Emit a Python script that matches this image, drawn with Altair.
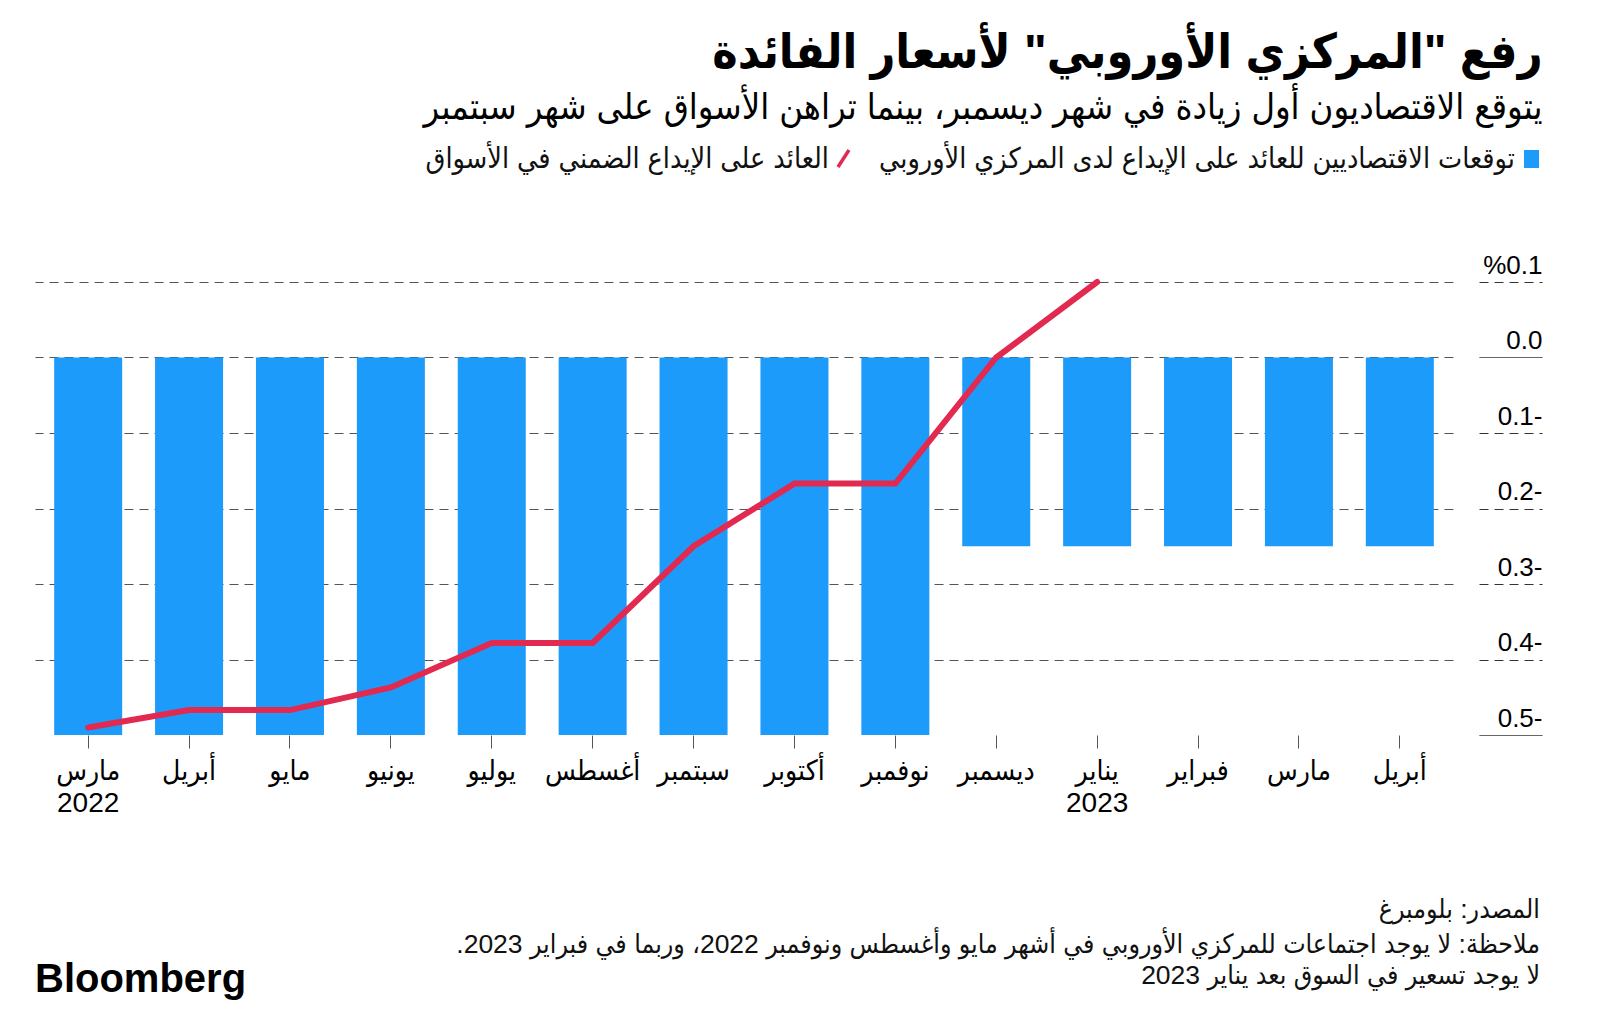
import json
import altair as alt
import pandas as pd

# ---------------- data ----------------
periods = ["2022-03", "2022-04", "2022-05", "2022-06", "2022-07", "2022-08", "2022-09",
           "2022-10", "2022-11", "2022-12", "2023-01", "2023-02", "2023-03", "2023-04"]
month_names = ["مارس", "أبريل", "مايو", "يونيو", "يوليو", "أغسطس", "سبتمبر",
               "أكتوبر", "نوفمبر", "ديسمبر", "يناير", "فبراير", "مارس", "أبريل"]
year_names = ["2022", "", "", "", "", "", "", "", "", "", "2023", "", "", ""]
economists = [-0.5, -0.5, -0.5, -0.5, -0.5, -0.5, -0.5, -0.5, -0.5,
              -0.25, -0.25, -0.25, -0.25, -0.25]
market_periods = periods[:11]
market = [-0.49, -0.467, -0.467, -0.437, -0.378, -0.378, -0.25, -0.167, -0.167, 0.0, 0.1]
y_ticks = [0.1, 0.0, -0.1, -0.2, -0.3, -0.4, -0.5]
y_labels = ["%0.1", "0.0", "0.1-", "0.2-", "0.3-", "0.4-", "0.5-"]

RLE, PDF = "\u202b", "\u202c"
def rtl(s):
    return RLE + s + PDF

title_text = rtl('رفع "المركزي الأوروبي" لأسعار الفائدة')
subtitle_text = rtl("يتوقع الاقتصاديون أول زيادة في شهر ديسمبر، بينما تراهن الأسواق على شهر سبتمبر")
legend_bar = rtl("توقعات الاقتصاديين للعائد على الإيداع لدى المركزي الأوروبي")
legend_line = rtl("العائد على الإيداع الضمني في الأسواق")
footer_source = rtl("المصدر: بلومبرغ")
footer_note = rtl("ملاحظة: لا يوجد اجتماعات للمركزي الأوروبي في أشهر مايو وأغسطس ونوفمبر 2022، وربما في فبراير 2023.")
footer_note2 = rtl("لا يوجد تسعير في السوق بعد يناير 2023")
brand = "Bloomberg"

# ---------------- style ----------------
BLUE = "#1d9bfb"
RED = "#e2294f"
AR_FONT = "Liberation Sans, DejaVu Sans Condensed, DejaVu Sans"
NUM_FONT = "Liberation Sans"

df = pd.DataFrame({"period": periods, "economists": economists})
line_df = pd.DataFrame({"period": market_periods, "market": market})

x_label_arrays = [[m, y] if y else m for m, y in zip(month_names, year_names)]
x_label_expr = (json.dumps(x_label_arrays, ensure_ascii=False)
                + "[indexof(" + json.dumps(periods) + ", datum.value)]")
y_label_expr = (json.dumps(y_labels, ensure_ascii=False)
                + "[indexof(" + json.dumps(y_ticks) + ", datum.value)]")

x_enc = alt.X(
    "period:N",
    scale=alt.Scale(domain=periods, paddingInner=0.326, paddingOuter=0.19),
    sort=None,
    axis=alt.Axis(
        title=None, domain=False, grid=False, ticks=True, tickSize=13,
        tickColor="#555555", tickWidth=1, labelAngle=0,
        labelExpr=x_label_expr, labelFont=AR_FONT, labelFontSize=28,
        labelColor="black", labelPadding=9, labelLineHeight=32,
    ),
)

y_scale = alt.Scale(domain=[-0.5, 0.1], nice=False, zero=False)
y_axis = alt.Axis(
    title=None, orient="right", offset=26, values=y_ticks, domain=False,
    grid=True, gridDash=[9, 6], gridColor="#555555", gridWidth=1,
    gridOpacity={"condition": {"test": "datum.value === -0.5", "value": 0}, "value": 1},
    tickSize=63, tickColor="#333333", tickWidth=1,
    tickDash={"condition": {"test": "datum.value === 0 || datum.value === -0.5", "value": [1, 0]},
              "value": [9, 6]},
    labelAlign="right", labelBaseline="alphabetic", labelPadding=0, labelOffset=-9,
    labelFont=NUM_FONT, labelFontSize=26, labelColor="black",
    labelExpr=y_label_expr,
)

bars = alt.Chart(df).mark_bar(color=BLUE).encode(
    x=x_enc,
    y=alt.Y("economists:Q", scale=y_scale, axis=y_axis),
    y2=alt.datum(0),
)

line = alt.Chart(line_df).mark_line(color=RED, strokeWidth=6, strokeCap="round").encode(
    x=alt.X("period:N"),
    y=alt.Y("market:Q", title=None),
)

# ---------------- legend (custom, right-to-left) ----------------
one = pd.DataFrame({"k": [0]})
leg_square = alt.Chart(one).mark_rect(color=BLUE).encode(
    x=alt.value(1489), x2=alt.value(1504), y=alt.value(-132), y2=alt.value(-114)
)
leg_text1 = alt.Chart(pd.DataFrame({"t": [legend_bar]})).mark_text(
    align="right", baseline="middle", font=AR_FONT, fontSize=28.5, color="#111111"
).encode(x=alt.value(1480), y=alt.value(-123), text="t:N")
leg_slash = alt.Chart(one).mark_rule(color=RED, strokeWidth=3.5).encode(
    x=alt.value(803), x2=alt.value(814), y=alt.value(-115), y2=alt.value(-132)
)
leg_text2 = alt.Chart(pd.DataFrame({"t": [legend_line]})).mark_text(
    align="right", baseline="middle", font=AR_FONT, fontSize=28.5, color="#111111"
).encode(x=alt.value(794), y=alt.value(-123), text="t:N")

# ---------------- footer ----------------
def foot(txt, y):
    return alt.Chart(pd.DataFrame({"t": [txt]})).mark_text(
        align="right", baseline="middle", font=AR_FONT, fontSize=26.5, color="#111111"
    ).encode(x=alt.value(1505), y=alt.value(y), text="t:N")

logo = alt.Chart(pd.DataFrame({"t": [brand]})).mark_text(
    align="left", baseline="alphabetic", font=NUM_FONT, fontSize=40, fontWeight="bold",
    color="black"
).encode(x=alt.value(0), y=alt.value(710), text="t:N")

chart = alt.layer(
    bars, line, leg_square, leg_text1, leg_slash, leg_text2,
    foot(footer_source, 628), foot(footer_note, 663), foot(footer_note2, 694), logo
).properties(
    width=1418,
    height=453,
    padding={"left": 27, "top": 22, "right": 10, "bottom": 10},
    title=alt.TitleParams(
        text=title_text, subtitle=subtitle_text, anchor="end", frame="bounds",
        font=AR_FONT, fontSize=48, fontWeight="bold", color="black",
        subtitleFont=AR_FONT, subtitleFontSize=36, subtitleColor="black",
        subtitlePadding=13, offset=19,
    ),
).configure(
    background="white",
    view=alt.ViewConfig(stroke="transparent", strokeWidth=0),
)

chart.save("out.html", embed_options={"renderer": "svg", "actions": False})
